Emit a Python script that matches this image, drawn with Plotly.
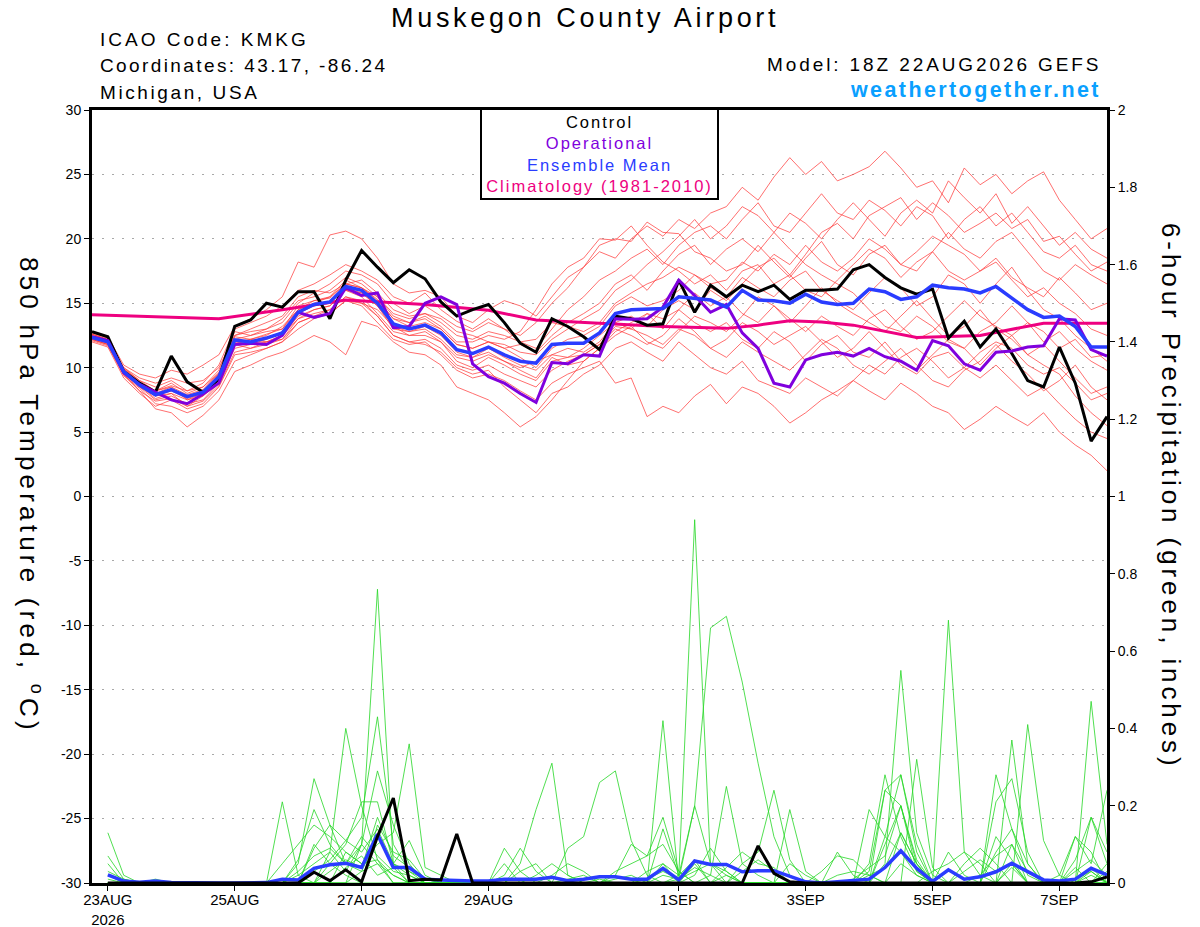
import pandas as pd
import plotly.graph_objects as go

# ---------------- data ----------------
RUN_START = "2026-08-22 18:00"      # first valid time (6-hourly steps)
STEP = "6h"
N_STEPS = 65                          # 22AUG 18Z .. 07SEP 18Z

X_TICK_DATES = ["2026-08-23", "2026-08-25", "2026-08-27", "2026-08-29",
                "2026-09-01", "2026-09-03", "2026-09-05", "2026-09-07"]
X_TICK_LABELS = ["23AUG<br>2026", "25AUG", "27AUG", "29AUG",
                 "1SEP", "3SEP", "5SEP", "7SEP"]
TEMP_TICKS = [-30, -25, -20, -15, -10, -5, 0, 5, 10, 15, 20, 25, 30]
TEMP_TICK_LABELS = ["-30", "-25", "-20", "-15", "-10", "-5", "0", "5", "10", "15", "20", "25", "30"]
PRECIP_TICKS = [0, 0.2, 0.4, 0.6, 0.8, 1.0, 1.2, 1.4, 1.6, 1.8, 2.0]
PRECIP_TICK_LABELS = ["0", "0.2", "0.4", "0.6", "0.8", "1", "1.2", "1.4", "1.6", "1.8", "2"]

# 850 hPa temperature (deg C), 65 steps
TEMP_CONTROL = [12.8, 12.4, 9.7, 8.8, 8.1, 10.9, 8.9, 8.1,
                9.1, 13.2, 13.7, 15.0, 14.7, 15.9, 15.9, 13.8,
                16.8, 19.1, 17.8, 16.6, 17.6, 16.9, 15.1, 14.0,
                14.5, 14.9, 13.5, 11.9, 11.2, 13.8, 13.2, 12.4,
                11.4, 14.0, 13.8, 13.3, 13.4, 16.8, 14.3, 16.4,
                15.5, 16.4, 15.9, 16.4, 15.3, 16.0, 16.0, 16.1,
                17.6, 18.0, 17.0, 16.2, 15.7, 16.1, 12.3, 13.6,
                11.6, 13.0, 11.1, 9.0, 8.5, 11.6, 8.8, 4.3,
                6.2]
TEMP_OPERATIONAL = [12.4, 12.1, 9.6, 8.7, 8.1, 7.5, 7.2, 7.95,
                    8.8, 11.8, 11.9, 11.8, 12.5, 14.3, 13.9, 14.2,
                    16.2, 15.6, 15.8, 13.1, 13.2, 15.0, 15.5, 14.9,
                    10.3, 9.3, 8.8, 8.0, 7.3, 10.4, 10.3, 11.0,
                    10.9, 13.8, 13.75, 13.8, 14.7, 16.8, 15.6, 14.3,
                    14.9, 12.7, 11.5, 8.8, 8.5, 10.6, 11.0, 11.2,
                    10.9, 11.5, 10.85, 10.5, 9.8, 12.1, 11.7, 10.3,
                    9.8, 11.2, 11.3, 11.6, 11.7, 13.8, 13.7, 11.4,
                    10.9]
TEMP_MEAN = [12.35, 12.0, 9.7, 8.65, 7.9, 8.3, 7.75, 8.1,
             9.3, 12.15, 12.0, 12.3, 12.7, 14.3, 14.9, 15.1,
             16.3, 16.0, 15.0, 13.4, 13.0, 13.3, 12.7, 11.4,
             11.1, 11.6, 11.0, 10.5, 10.35, 11.8, 11.9, 11.9,
             12.7, 14.2, 14.5, 14.55, 14.6, 15.5, 15.4, 15.25,
             14.7, 16.0, 15.25, 15.2, 15.0, 15.7, 15.1, 14.9,
             15.0, 16.1, 15.9, 15.3, 15.5, 16.4, 16.2, 16.1,
             15.8, 16.3, 15.4, 14.5, 13.9, 14.0, 13.2, 11.6,
             11.6]
CLIM_STEPS = [0, 8, 12, 16, 21, 25, 28, 31, 33, 36, 40, 42, 44, 46, 48, 50, 52, 56, 58, 60, 64]
CLIM_VALUES = [14.1, 13.8, 14.5, 15.25, 14.9, 14.45, 13.7, 13.5, 13.4, 13.2, 13.05,
               13.3, 13.65, 13.55, 13.3, 12.8, 12.35, 12.5, 13.0, 13.45, 13.45]

TEMP_MEMBERS = [
    [12.6, 12.2, 10.0, 9.0, 8.5, 9.0, 8.2, 8.8, 10.2, 13.0, 13.5, 14.0, 14.8, 16.0, 16.5, 17.2,
     18.0, 17.5, 16.8, 15.5, 15.0, 15.8, 14.5, 13.6, 13.0, 13.8, 13.0, 12.5, 13.5, 15.0, 16.2, 17.8,
     19.0, 18.5, 20.0, 21.0, 20.2, 21.5, 20.8, 22.0, 22.5, 24.0, 23.0, 24.8, 26.3, 25.0, 26.0, 24.5,
     25.0, 25.6, 26.8, 25.5, 24.0, 24.5, 22.8, 25.5, 24.2, 25.0, 23.5, 24.5, 25.2, 23.0, 21.5, 20.0, 20.8],
    [12.0, 11.6, 9.2, 8.0, 7.0, 7.5, 6.8, 7.2, 8.5, 11.0, 11.2, 11.5, 12.0, 13.5, 14.0, 14.5,
     15.5, 15.2, 14.0, 12.5, 12.0, 11.8, 11.2, 10.0, 9.5, 9.8, 8.5, 7.5, 6.5, 8.0, 8.5, 9.5,
     10.2, 11.5, 12.0, 11.2, 10.5, 12.0, 11.0, 10.0, 9.5, 10.5, 9.0, 8.5, 8.0, 9.2, 8.5, 7.8,
     9.0, 8.2, 7.5, 8.8, 8.0, 7.0, 6.5, 5.2, 6.0, 7.0, 6.2, 5.5, 6.5, 5.0, 4.0, 3.2, 2.0],
    [12.8, 12.4, 10.2, 9.5, 9.2, 9.8, 9.5, 10.2, 11.0, 13.2, 13.8, 14.5, 15.5, 18.2, 17.8, 20.3,
     20.6, 20.0, 18.5, 16.5, 15.8, 16.0, 15.5, 14.0, 13.5, 14.5, 15.2, 14.8, 14.0, 15.5, 17.0, 17.8,
     19.5, 20.0, 19.8, 21.3, 20.5, 20.4, 19.0, 18.5, 17.5, 18.0, 19.5, 18.2, 17.0, 18.5, 19.8, 18.0,
     17.2, 18.8, 19.5, 18.0, 17.5, 19.0, 20.5, 19.2, 18.5, 19.8, 20.5, 19.0, 17.5, 16.8, 18.0, 17.2, 16.5],
    [12.2, 11.8, 9.5, 8.2, 6.8, 6.5, 5.4, 6.3, 7.5, 9.7, 10.2, 10.8, 11.2, 11.8, 12.5, 12.0,
     11.0, 13.6, 13.2, 12.0, 11.2, 11.0, 10.2, 8.5, 8.0, 7.5, 6.5, 5.4, 6.2, 7.5, 9.0, 10.5,
     11.5, 12.8, 13.5, 14.2, 13.0, 14.5, 15.8, 14.8, 15.5, 17.0, 16.2, 15.5, 16.8, 17.5, 16.0, 15.2,
     14.5, 15.8, 17.0, 16.2, 14.8, 15.5, 17.2, 16.5, 15.0, 16.5, 17.8, 16.0, 14.5, 13.8, 12.5, 11.5, 10.5],
    [12.5, 12.0, 9.8, 8.8, 8.0, 8.5, 7.5, 8.0, 9.5, 12.5, 12.8, 13.0, 13.5, 15.0, 15.8, 16.5,
     17.5, 17.2, 16.5, 15.0, 14.2, 14.8, 14.0, 13.2, 12.8, 13.5, 13.0, 12.0, 11.5, 13.0, 14.5, 15.5,
     16.8, 17.5, 18.5, 19.2, 18.0, 19.5, 20.5, 21.0, 20.0, 21.5, 22.8, 21.0, 20.5, 22.0, 23.5, 22.0,
     21.5, 23.0, 22.2, 21.0, 22.5, 21.8, 20.0, 21.5, 22.5, 21.0, 22.0, 20.5, 19.0, 18.5, 19.5, 18.0, 17.5],
    [12.3, 11.9, 9.6, 8.5, 7.5, 7.8, 7.2, 7.5, 8.8, 11.5, 11.8, 12.0, 12.2, 13.8, 14.5, 14.8,
     16.0, 15.5, 14.2, 12.8, 12.5, 12.8, 12.0, 10.5, 10.0, 10.8, 10.2, 9.5, 9.0, 10.5, 10.8, 11.0,
     11.8, 13.2, 13.0, 12.5, 11.8, 13.0, 12.5, 11.5, 10.8, 12.0, 11.2, 10.5, 9.8, 11.0, 12.2, 11.5,
     10.2, 9.5, 10.5, 11.5, 10.2, 9.0, 8.5, 9.8, 10.5, 11.8, 10.5, 9.5, 8.2, 9.0, 10.2, 8.5, 7.5],
    [12.7, 12.3, 9.9, 9.0, 8.2, 8.8, 8.0, 8.5, 9.8, 12.8, 12.5, 13.0, 13.8, 15.2, 15.5, 16.0,
     17.0, 16.5, 15.5, 14.0, 13.5, 14.0, 13.2, 12.0, 12.0, 12.5, 12.2, 12.8, 14.5, 16.5, 17.8, 18.5,
     20.0, 19.9, 21.0, 19.5, 18.2, 17.5, 16.5, 17.2, 16.0, 17.5, 18.0, 16.5, 17.2, 16.0, 15.5, 16.8,
     18.0, 19.2, 18.5, 17.0, 18.2, 19.0, 17.5, 16.8, 17.5, 18.5, 17.0, 16.2, 15.5, 17.0, 15.8, 14.5, 15.0],
    [12.1, 11.7, 9.4, 8.4, 7.2, 7.0, 6.5, 7.0, 8.2, 10.5, 11.0, 11.5, 12.0, 13.0, 13.8, 14.2,
     15.2, 14.8, 13.5, 12.2, 11.8, 12.0, 11.0, 9.8, 9.2, 9.5, 9.0, 8.2, 7.5, 8.8, 9.5, 10.0,
     10.5, 8.8, 9.2, 6.2, 7.0, 6.5, 7.8, 8.7, 7.2, 8.5, 8.0, 7.0, 5.7, 6.5, 7.5, 8.2,
     9.0, 10.2, 9.5, 10.8, 11.5, 10.5, 9.2, 10.0, 11.2, 12.0, 11.5, 10.2, 9.5, 10.0, 8.8, 7.5, 8.0],
    [12.4, 12.1, 9.8, 8.7, 8.2, 8.6, 8.2, 8.5, 9.6, 12.2, 12.5, 12.8, 13.0, 14.8, 15.2, 15.5,
     16.8, 16.2, 15.5, 14.2, 13.8, 14.2, 13.5, 12.5, 12.2, 12.8, 12.5, 12.0, 12.2, 13.5, 13.2, 12.8,
     13.5, 15.0, 15.8, 16.5, 17.0, 17.8, 17.2, 16.5, 16.8, 18.2, 17.5, 18.8, 18.0, 19.5, 18.2, 17.5,
     18.5, 20.0, 19.2, 18.0, 19.0, 20.2, 19.5, 18.8, 17.5, 18.2, 16.8, 15.5, 16.2, 15.0, 14.2, 13.0, 12.5],
    [12.2, 11.8, 9.5, 8.5, 7.8, 8.0, 7.5, 7.8, 9.0, 11.8, 11.5, 12.0, 12.5, 14.0, 14.5, 14.8,
     16.0, 15.8, 14.8, 13.0, 12.8, 13.0, 12.2, 11.0, 10.8, 11.2, 10.5, 9.8, 9.2, 10.8, 10.2, 10.5,
     11.5, 12.5, 13.2, 12.0, 11.5, 12.8, 14.0, 13.5, 12.8, 14.0, 15.5, 14.8, 13.5, 14.8, 16.2, 15.0,
     14.2, 13.5, 12.8, 14.0, 15.2, 13.8, 12.5, 13.2, 14.5, 13.0, 12.2, 11.0, 11.8, 10.5, 9.2, 8.0, 8.5],
    [12.6, 12.2, 10.0, 9.2, 8.8, 9.2, 8.8, 9.0, 10.0, 12.5, 13.0, 13.5, 14.0, 15.5, 16.0, 15.8,
     16.5, 16.8, 15.8, 14.5, 14.0, 14.2, 13.8, 12.8, 12.5, 12.0, 11.5, 11.8, 11.2, 12.5, 13.5, 14.2,
     15.0, 16.5, 17.2, 16.0, 17.5, 18.8, 19.5, 18.0, 19.2, 20.0, 19.0, 20.5, 22.0, 21.2, 20.0, 21.5,
     22.8, 21.5, 20.2, 22.0, 23.0, 22.0, 24.5, 23.2, 22.0, 23.5, 21.2, 22.5, 21.0, 19.5, 20.5, 19.2, 18.5],
    [12.3, 11.9, 9.7, 8.6, 7.6, 8.0, 7.0, 7.8, 8.8, 11.8, 12.2, 12.0, 12.5, 13.8, 14.2, 14.5,
     15.5, 15.0, 14.5, 13.2, 12.5, 12.5, 12.0, 10.8, 10.5, 11.0, 10.5, 10.0, 10.5, 11.0, 10.8, 11.5,
     12.5, 13.5, 13.0, 14.2, 13.8, 14.5, 13.5, 12.8, 13.5, 12.2, 11.5, 12.8, 12.0, 10.5, 11.8, 12.5,
     11.2, 10.8, 12.0, 10.5, 9.8, 11.0, 12.2, 11.5, 10.2, 11.5, 12.5, 11.0, 10.2, 9.5, 7.8, 6.5, 5.5],
    [12.5, 12.1, 9.9, 8.9, 8.0, 8.2, 7.8, 8.2, 9.5, 12.0, 12.2, 12.5, 13.2, 14.5, 15.0, 15.5,
     16.5, 16.2, 15.2, 13.8, 13.2, 13.5, 13.0, 11.8, 11.5, 12.0, 11.8, 11.2, 11.0, 12.2, 13.0, 13.8,
     14.5, 16.0, 16.8, 18.0, 19.0, 20.2, 21.5, 20.0, 21.0, 22.5, 21.8, 20.5, 19.2, 18.0, 17.2, 16.5,
     15.8, 14.5, 13.2, 12.8, 14.0, 13.2, 12.0, 11.5, 12.8, 13.5, 14.8, 13.5, 12.0, 12.8, 11.5, 10.5, 9.8],
    [12.4, 12.0, 9.6, 8.6, 7.8, 8.2, 7.6, 8.0, 9.2, 12.0, 11.8, 12.2, 12.8, 14.2, 14.8, 15.0,
     16.2, 15.8, 14.8, 13.2, 12.8, 13.2, 12.5, 11.2, 10.8, 11.5, 10.8, 10.2, 9.8, 11.0, 11.5, 11.2,
     12.0, 13.5, 14.0, 13.2, 14.5, 15.2, 14.5, 16.0, 15.2, 16.5, 17.8, 18.5, 17.2, 18.8, 20.5, 21.2,
     20.0, 21.8, 22.5, 23.2, 21.5, 22.8, 21.8, 20.5, 21.2, 22.0, 20.8, 21.5, 19.8, 20.2, 18.8, 17.5, 18.2],
    [12.6, 12.1, 9.8, 8.8, 8.2, 8.5, 7.9, 8.3, 9.6, 12.4, 12.2, 12.6, 13.0, 14.5, 15.2, 15.4,
     16.5, 16.2, 15.3, 13.8, 13.5, 13.8, 13.0, 11.8, 11.5, 12.0, 11.5, 10.8, 10.0, 11.5, 12.2, 12.5,
     13.2, 14.8, 15.5, 14.8, 15.2, 16.0, 17.2, 16.2, 15.5, 14.2, 13.5, 14.8, 13.8, 12.8, 14.0, 13.2,
     12.5, 13.8, 14.5, 13.2, 12.2, 12.8, 14.0, 15.2, 14.0, 13.2, 12.5, 13.5, 12.8, 11.5, 12.2, 10.8, 11.0],
    [12.2, 11.8, 9.4, 8.2, 7.4, 7.6, 7.0, 7.4, 8.6, 11.2, 11.5, 11.8, 12.2, 13.5, 14.0, 14.2,
     15.2, 15.0, 14.0, 12.5, 12.0, 12.2, 11.5, 10.2, 9.8, 10.2, 9.5, 9.0, 8.5, 9.8, 10.5, 11.0,
     11.8, 13.0, 12.5, 11.8, 12.5, 13.8, 12.8, 11.5, 12.2, 13.5, 12.8, 11.8, 12.5, 13.2, 12.0, 10.8,
     11.5, 12.8, 11.5, 10.2, 9.5, 10.8, 11.2, 10.0, 9.2, 10.2, 9.0, 7.8, 8.5, 7.2, 6.0, 5.0, 4.5],
]

# 6-hour precipitation (inches), 64 steps ending 23AUG 00Z .. 07SEP 18Z
PRECIP_CONTROL = [0, 0, 0, 0, 0, 0, 0, 0, 0, 0, 0, 0, 0, 0.028, 0.006, 0.034,
                  0.003, 0.12, 0.22, 0.006, 0.01, 0.008, 0.127, 0, 0, 0, 0, 0, 0, 0, 0, 0,
                  0, 0, 0, 0, 0, 0, 0, 0, 0, 0.096, 0.025, 0.003, 0, 0, 0, 0,
                  0, 0, 0, 0, 0, 0, 0, 0, 0, 0, 0, 0, 0, 0, 0.003, 0.016]
PRECIP_MEAN = [0.021, 0.005, 0.002, 0.005, 0.001, 0, 0, 0, 0, 0, 0.001, 0.01, 0.008, 0.038, 0.047, 0.051,
               0.04, 0.126, 0.04, 0.04, 0.01, 0.008, 0.006, 0.005, 0.005, 0.01, 0.01, 0.01, 0.015, 0.006, 0.01, 0.016,
               0.016, 0.01, 0.01, 0.038, 0.008, 0.057, 0.048, 0.048, 0.029, 0.032, 0.032, 0.018, 0.003, 0.0, 0.003, 0.005,
               0.01, 0.04, 0.083, 0.038, 0.004, 0.034, 0.01, 0.016, 0.029, 0.051, 0.029, 0.008, 0.005, 0.01, 0.038, 0.021]
PRECIP_MEMBERS = [
    [0.13, 0.02, 0, 0, 0, 0, 0, 0, 0, 0, 0, 0.21, 0.02, 0.05, 0.08, 0.03,
     0.10, 0.05, 0.02, 0, 0, 0, 0, 0, 0, 0.05, 0, 0, 0, 0, 0, 0,
     0, 0, 0, 0.05, 0.02, 0.06, 0, 0, 0, 0, 0, 0, 0, 0, 0, 0,
     0, 0.10, 0.20, 0.05, 0, 0, 0, 0, 0, 0.05, 0, 0, 0, 0, 0.03, 0],
    [0.07, 0.01, 0, 0, 0, 0, 0, 0, 0, 0, 0, 0, 0.05, 0.27, 0.15, 0.05,
     0.03, 0.12, 0.05, 0, 0, 0, 0, 0, 0, 0, 0, 0, 0, 0, 0, 0,
     0.02, 0.10, 0.07, 0.17, 0.03, 0, 0, 0.02, 0, 0, 0, 0, 0, 0, 0, 0,
     0.03, 0.24, 0.28, 0.08, 0, 0, 0, 0, 0.08, 0.14, 0.05, 0, 0, 0, 0.17, 0.05],
    [0.05, 0, 0, 0, 0, 0, 0, 0, 0, 0, 0, 0, 0, 0, 0.08, 0.40,
     0.20, 0.06, 0.02, 0, 0, 0, 0, 0, 0, 0, 0, 0.02, 0.05, 0.02, 0, 0,
     0, 0, 0, 0, 0, 0.02, 0.09, 0.03, 0, 0, 0, 0, 0, 0, 0.08, 0.02,
     0, 0, 0.13, 0.05, 0, 0, 0, 0, 0.21, 0.27, 0.08, 0, 0, 0.04, 0, 0],
    [0, 0, 0, 0, 0, 0, 0, 0, 0, 0, 0, 0, 0, 0, 0, 0,
     0.10, 0.76, 0.05, 0.02, 0, 0, 0, 0, 0, 0, 0, 0, 0, 0, 0, 0,
     0, 0, 0, 0.14, 0.02, 0.20, 0.05, 0, 0, 0, 0, 0, 0, 0, 0, 0,
     0, 0, 0, 0, 0, 0.68, 0.08, 0.02, 0, 0, 0, 0, 0, 0, 0.47, 0.10],
    [0.02, 0, 0, 0, 0, 0, 0, 0, 0, 0, 0, 0, 0, 0.09, 0.15, 0.11,
     0.17, 0.43, 0.10, 0.03, 0, 0, 0, 0, 0, 0.02, 0.09, 0.03, 0, 0, 0, 0,
     0, 0, 0, 0, 0, 0, 0, 0, 0.05, 0.08, 0.24, 0.06, 0, 0, 0, 0,
     0, 0.24, 0.20, 0.03, 0, 0, 0, 0, 0, 0, 0.41, 0.11, 0.02, 0, 0, 0],
    [0, 0, 0, 0, 0, 0, 0, 0, 0, 0, 0, 0, 0.06, 0.19, 0.10, 0.05,
     0.10, 0.29, 0.15, 0.05, 0, 0, 0, 0, 0, 0, 0, 0, 0, 0, 0, 0.01,
     0, 0, 0.03, 0.05, 0, 0, 0, 0, 0, 0, 0, 0.19, 0.03, 0, 0, 0,
     0.19, 0.12, 0.28, 0.10, 0, 0, 0, 0, 0, 0, 0, 0, 0, 0.12, 0.05, 0.24],
    [0, 0, 0, 0, 0, 0, 0, 0, 0, 0, 0, 0, 0, 0, 0, 0.08,
     0.05, 0.10, 0.13, 0.36, 0.04, 0.02, 0, 0, 0, 0, 0, 0, 0, 0.09, 0.12, 0.26,
     0.29, 0.11, 0.02, 0, 0, 0, 0, 0, 0, 0, 0, 0, 0, 0, 0, 0,
     0, 0, 0, 0, 0, 0, 0.05, 0.09, 0.05, 0, 0, 0, 0, 0, 0, 0.05],
    [0, 0, 0, 0, 0, 0, 0, 0, 0, 0, 0, 0, 0, 0, 0.05, 0.10,
     0.21, 0.21, 0.05, 0.11, 0.02, 0, 0, 0, 0, 0, 0, 0, 0, 0, 0, 0,
     0, 0, 0, 0.42, 0, 0.05, 0, 0, 0, 0, 0, 0, 0, 0, 0, 0,
     0, 0.05, 0.55, 0.13, 0.02, 0, 0, 0, 0, 0.37, 0.05, 0, 0, 0, 0, 0],
    [0, 0, 0, 0.01, 0, 0, 0, 0, 0, 0, 0, 0, 0, 0.10, 0.05, 0.02,
     0, 0.15, 0.08, 0.06, 0.01, 0, 0, 0, 0, 0, 0.05, 0.19, 0.31, 0.02, 0, 0,
     0, 0, 0, 0, 0.02, 0.94, 0.05, 0.02, 0, 0, 0, 0, 0, 0, 0, 0,
     0.05, 0.28, 0.12, 0.03, 0, 0, 0, 0, 0, 0, 0, 0, 0, 0, 0, 0],
    [0, 0, 0, 0, 0, 0, 0, 0, 0, 0, 0, 0, 0, 0, 0, 0,
     0.03, 0.05, 0, 0, 0, 0, 0, 0, 0, 0.09, 0.03, 0, 0, 0, 0, 0,
     0, 0, 0, 0, 0.01, 0.20, 0.66, 0.69, 0.52, 0.31, 0.12, 0.02, 0, 0, 0, 0,
     0, 0, 0, 0, 0, 0.08, 0.02, 0, 0, 0, 0, 0, 0, 0, 0.04, 0],
    [0, 0, 0, 0, 0, 0, 0, 0, 0, 0, 0, 0, 0, 0, 0, 0,
     0, 0, 0, 0, 0, 0, 0, 0, 0, 0, 0, 0, 0, 0, 0, 0,
     0, 0, 0, 0, 0, 0, 0.02, 0.25, 0.05, 0.02, 0, 0, 0, 0.03, 0.07, 0.06,
     0.02, 0, 0, 0.32, 0.04, 0, 0, 0, 0.28, 0.14, 0.02, 0, 0, 0.06, 0.17, 0.08],
    [0, 0, 0, 0, 0, 0, 0, 0, 0, 0, 0, 0.05, 0.10, 0.15, 0.12, 0.08,
     0.05, 0.06, 0, 0, 0, 0, 0, 0, 0, 0, 0, 0, 0, 0, 0, 0,
     0.03, 0.05, 0.07, 0.10, 0.03, 0, 0, 0, 0, 0, 0, 0.05, 0.02, 0, 0, 0,
     0, 0, 0, 0, 0.03, 0.05, 0.08, 0.05, 0, 0.10, 0, 0, 0.02, 0.12, 0.08, 0],
    [0.01, 0, 0, 0, 0, 0, 0, 0, 0, 0, 0, 0, 0.03, 0.07, 0.09, 0.05,
     0.12, 0.07, 0.03, 0.02, 0, 0, 0, 0, 0, 0, 0, 0, 0.02, 0.05, 0.03, 0,
     0, 0, 0, 0, 0, 0, 0, 0.04, 0.08, 0.05, 0.04, 0, 0, 0, 0, 0,
     0, 0.12, 0.08, 0.02, 0, 0, 0, 0, 0.12, 0.06, 0, 0, 0, 0, 0.02, 0],
    [0, 0, 0, 0, 0, 0, 0, 0, 0, 0, 0, 0, 0, 0.03, 0.06, 0.11,
     0.08, 0.14, 0.05, 0.03, 0.01, 0, 0, 0, 0, 0, 0, 0, 0, 0, 0, 0,
     0, 0, 0.01, 0.03, 0.01, 0.04, 0.02, 0, 0, 0, 0, 0, 0, 0, 0, 0.01,
     0.04, 0.07, 0.20, 0.06, 0, 0, 0.03, 0.06, 0.03, 0.05, 0, 0, 0, 0.03, 0.06, 0.02],
    [0.03, 0.01, 0, 0, 0, 0, 0, 0, 0, 0, 0, 0, 0.02, 0, 0.03, 0.06,
     0.04, 0.17, 0.07, 0.04, 0, 0, 0, 0, 0, 0, 0.03, 0.05, 0, 0, 0, 0,
     0.01, 0.02, 0, 0, 0, 0, 0, 0, 0.03, 0.06, 0.03, 0, 0, 0, 0, 0,
     0.02, 0.04, 0.13, 0.05, 0, 0, 0, 0, 0, 0.04, 0, 0, 0, 0, 0, 0.03],
    [0, 0, 0, 0, 0, 0, 0, 0, 0, 0, 0, 0, 0, 0, 0, 0.04,
     0.07, 0.02, 0.04, 0, 0, 0, 0, 0, 0, 0, 0, 0, 0, 0.01, 0.02, 0,
     0, 0, 0, 0.02, 0.01, 0.03, 0.05, 0.03, 0, 0, 0, 0, 0, 0, 0.02, 0.03,
     0.02, 0, 0.05, 0.02, 0, 0, 0, 0.02, 0.07, 0.10, 0.03, 0, 0, 0.01, 0.03, 0],
]

TITLE = "Muskegon County Airport"
INFO_LINES = ["ICAO Code: KMKG", "Coordinates: 43.17, -86.24", "Michigan, USA"]
MODEL_TEXT = "Model: 18Z 22AUG2026 GEFS"
SITE_TEXT = "weathertogether.net"
LEGEND_ITEMS = [("Control", "#000000"), ("Operational", "#8000dd"),
                ("Ensemble Mean", "#2a3cff"), ("Climatology (1981-2010)", "#ee0080")]
Y_TITLE = "850 hPa Temperature (red, <sup>o</sup>C)"
Y2_TITLE = "6-hour Precipitation (green, inches)"

# ---------------- figure ----------------
W, H = 1200, 927
ML, MR, MT, MB = 92, 93, 110, 44
PW, PH = W - ML - MR, H - MT - MB


def fx(px):
    return (px - ML) / PW


def fy(py):
    return (H - MB - py) / PH


def spaced(text, ls, color=None):
    style = f"letter-spacing:{ls}px"
    if color:
        style = f"color:{color};" + style
    return f"<span style='{style}'>{text}</span>"


times = pd.date_range(RUN_START, periods=N_STEPS, freq=STEP)
precip_times = times[1:]
clim_times = times[CLIM_STEPS]

fig = go.Figure()

for m in TEMP_MEMBERS:
    fig.add_trace(go.Scatter(x=times, y=m, mode="lines", yaxis="y",
                             line=dict(color="rgba(255,55,55,0.8)", width=0.9),
                             hoverinfo="skip"))
for m in PRECIP_MEMBERS:
    fig.add_trace(go.Scatter(x=precip_times, y=m, mode="lines", yaxis="y2",
                             line=dict(color="rgba(40,215,40,0.9)", width=0.9),
                             hoverinfo="skip"))

fig.add_trace(go.Scatter(x=clim_times, y=CLIM_VALUES, mode="lines", yaxis="y",
                         line=dict(color="#ee0080", width=3)))
fig.add_trace(go.Scatter(x=times, y=TEMP_CONTROL, mode="lines", yaxis="y",
                         line=dict(color="#000000", width=3)))
fig.add_trace(go.Scatter(x=times, y=TEMP_OPERATIONAL, mode="lines", yaxis="y",
                         line=dict(color="#8000dd", width=3)))
fig.add_trace(go.Scatter(x=times, y=TEMP_MEAN, mode="lines", yaxis="y",
                         line=dict(color="#2a3cff", width=3.5)))
fig.add_trace(go.Scatter(x=precip_times, y=PRECIP_MEAN, mode="lines", yaxis="y2",
                         line=dict(color="#2a3cff", width=3.5)))
fig.add_trace(go.Scatter(x=precip_times, y=PRECIP_CONTROL, mode="lines", yaxis="y2",
                         line=dict(color="#000000", width=3)))

axis_common = dict(showline=True, linewidth=3, linecolor="black", ticks="outside",
                   ticklen=5, tickwidth=1, tickcolor="black", zeroline=False,
                   automargin=False)

fig.update_layout(
    width=W, height=H,
    margin=dict(l=ML, r=MR, t=MT, b=MB),
    paper_bgcolor="white", plot_bgcolor="white",
    showlegend=False,
    font=dict(family="Liberation Sans, Arial, sans-serif", color="black"),
    xaxis=dict(type="date", range=[times[0], times[-1]],
               tickmode="array", tickvals=X_TICK_DATES, ticktext=X_TICK_LABELS,
               tickfont=dict(size=15), showgrid=False, mirror=True,
               ticklabelstandoff=-4, **axis_common),
    yaxis=dict(range=[-30, 30], tickmode="array", tickvals=TEMP_TICKS,
               ticktext=TEMP_TICK_LABELS,
               tickfont=dict(size=14), showgrid=True, gridcolor="#a8a8a8",
               griddash="2px,8px", gridwidth=1, mirror=True, **axis_common),
    yaxis2=dict(range=[0, 2], overlaying="y", side="right", tickmode="array",
                tickvals=PRECIP_TICKS, ticktext=PRECIP_TICK_LABELS,
                tickfont=dict(size=14), showgrid=False, **axis_common),
)

ann = []
ann.append(dict(text=spaced(TITLE, 3.7), x=fx(585), y=fy(18), xref="paper", yref="paper",
                xanchor="center", yanchor="middle", showarrow=False, font=dict(size=27)))
info_y = [40, 66, 93]
info_ls = [3.0, 2.4, 2.6]
for t, yy, ls in zip(INFO_LINES, info_y, info_ls):
    ann.append(dict(text=spaced(t, ls), x=fx(98), y=fy(yy), xref="paper", yref="paper",
                    xanchor="left", yanchor="middle", showarrow=False, font=dict(size=19)))
ann.append(dict(text=spaced(MODEL_TEXT, 2.9), x=fx(1103), y=fy(64), xref="paper", yref="paper",
                xanchor="right", yanchor="middle", showarrow=False, font=dict(size=19)))
ann.append(dict(text=spaced("<b>" + SITE_TEXT + "</b>", 2.4), x=fx(1103), y=fy(90),
                xref="paper", yref="paper", xanchor="right", yanchor="middle",
                showarrow=False, font=dict(size=21.5, color="#0aa0ff")))
legend_text = "<br>".join(spaced(t, 2, c) for t, c in LEGEND_ITEMS)
ann.append(dict(text=legend_text, x=fx(599.5), y=fy(154), xref="paper", yref="paper",
                xanchor="center", yanchor="middle", showarrow=False, align="center",
                font=dict(size=16.5), bordercolor="black", borderwidth=2, borderpad=0,
                bgcolor="white", width=235, height=88))
ann.append(dict(text=spaced(Y_TITLE, 4.2), x=fx(31), y=fy(495), xref="paper", yref="paper",
                xanchor="center", yanchor="middle", showarrow=False, textangle=90,
                font=dict(size=26)))
ann.append(dict(text=spaced(Y2_TITLE, 3.9), x=fx(1171), y=fy(496), xref="paper", yref="paper",
                xanchor="center", yanchor="middle", showarrow=False, textangle=90,
                font=dict(size=26)))
fig.update_layout(annotations=ann)

# the page is shown edge to edge, without the browser's default 8px body margin
fig.write_html("out.html",
               config={"displayModeBar": False},
               post_script="document.body.style.margin='0';document.body.style.overflow='hidden';")
